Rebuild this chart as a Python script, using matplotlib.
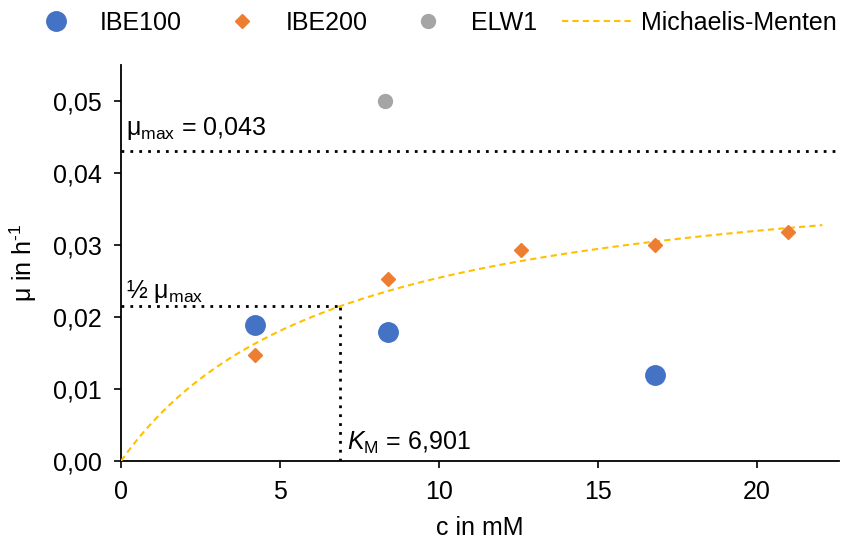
import matplotlib.pyplot as plt
import numpy as np
from matplotlib.ticker import FuncFormatter

plt.rcParams["font.family"] = ["Liberation Sans", "DejaVu Sans"]
plt.rcParams["mathtext.fontset"] = "custom"
plt.rcParams["mathtext.rm"] = "Liberation Sans"
plt.rcParams["mathtext.it"] = "Liberation Sans:italic"

# measured data
ibe100_c = [4.2, 8.4, 16.8]
ibe100_mu = [0.0189, 0.0179, 0.0119]
ibe200_c = [4.2, 8.4, 12.6, 16.8, 21.0]
ibe200_mu = [0.0147, 0.0253, 0.0293, 0.0300, 0.0318]
elw1_c = [8.3]
elw1_mu = [0.0500]

# fitted Michaelis-Menten parameters
mu_max = 0.043
k_m = 6.901
c_fit_max = 22.07

c_fit = np.linspace(0, c_fit_max, 200)
mu_fit = mu_max * c_fit / (k_m + c_fit)

fig = plt.figure(figsize=(8.53, 5.44), dpi=100)
ax = fig.add_axes([0.1419, 0.1526, 0.842, 0.728])

ax.plot(ibe100_c, ibe100_mu, "o", color="#4472C4", ms=14, label="IBE100", zorder=4)
ax.plot(ibe200_c, ibe200_mu, "D", color="#ED7D31", ms=7, label="IBE200", zorder=4)
ax.plot(elw1_c, elw1_mu, "o", color="#A5A5A5", ms=10, label="ELW1", zorder=4)
ax.plot(c_fit, mu_fit, "--", color="#FFC000", lw=1.5, dashes=(3, 2), label="Michaelis-Menten", zorder=3)

dot = dict(color="black", lw=2, linestyle=(0, (1, 2.2)), zorder=2)
ax.axhline(mu_max, **dot)
ax.plot([0, k_m], [mu_max / 2, mu_max / 2], **dot)
ax.plot([k_m, k_m], [0, mu_max / 2], **dot)

fs = 18
ax.text(0.16, 0.0453, r"$\mathrm{μ_{max}}$ = 0,043", fontsize=fs, va="baseline")
ax.text(0.16, 0.0227, r"½ $\mathrm{μ_{max}}$", fontsize=fs, va="baseline")
ax.text(7.1, 0.0016, r"$K_\mathrm{M}$ = 6,901", fontsize=fs, va="baseline")

ax.set_xlim(0, 22.6)
ax.set_ylim(0, 0.055)
ax.set_xticks([0, 5, 10, 15, 20])
ax.set_yticks([0, 0.01, 0.02, 0.03, 0.04, 0.05])
ax.yaxis.set_major_formatter(FuncFormatter(lambda v, p: f"{v:.2f}".replace(".", ",")))
ax.tick_params(labelsize=fs, length=5, width=1.2, direction="out", pad=9)
for s in ["top", "right"]:
    ax.spines[s].set_visible(False)
for s in ["left", "bottom"]:
    ax.spines[s].set_linewidth(1.3)

ax.set_xlabel("c in mM", fontsize=fs, labelpad=8)
ax.set_ylabel(r"μ in h$^{\text{-1}}$", fontsize=fs, labelpad=10)

fig.legend(loc="upper center", bbox_to_anchor=(0.503, 1.022), ncol=4, frameon=False,
           fontsize=fs, handlelength=2.8, columnspacing=1.0, handletextpad=0.35)

fig.savefig("out.png", dpi=100)
